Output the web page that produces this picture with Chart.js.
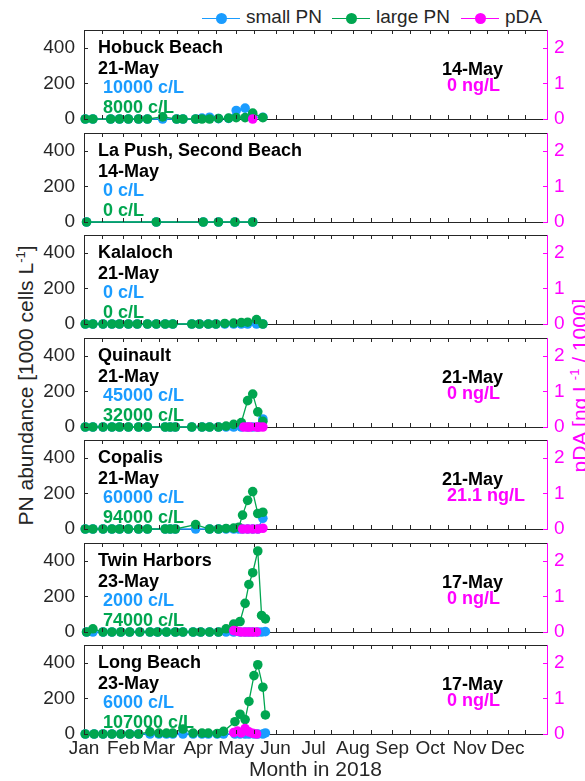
<!DOCTYPE html>
<html lang="en">
<head>
<meta charset="UTF-8">
<title>PN abundance 2018</title>
<script src="https://cdn.jsdelivr.net/npm/chart.js@4.4.1/dist/chart.umd.min.js"></script>
<style>
  body { margin: 0; background: #fff; width: 585px; height: 781px; overflow: hidden; position: relative;
         font-family: "Liberation Sans", Arial, sans-serif; }
  canvas.panel { position: absolute; left: 0; }
  .ytitle { position: absolute; width: 420px; text-align: center; font-size: 21px; line-height: 1;
            transform: rotate(-90deg); white-space: nowrap; }
  .ytitle sup { font-size: 13px; line-height: 0; }
  .legend { position: absolute; top: 6px; font-size: 19px; color: #262626; white-space: nowrap; }
  .legend .mark { display: inline-block; position: relative; width: 38px; height: 20px; vertical-align: top; margin-right: 6px; }
  .legend .mark i { position: absolute; left: 0; right: 0; top: 12px; height: 1.4px; }
  .legend .mark b { position: absolute; left: 14px; top: 7px; width: 11px; height: 11px; border-radius: 50%; }
</style>
</head>
<body>
<div class="legend" style="left:202px"><span class="mark"><i style="background:#1a9cff"></i><b style="background:#1a9cff"></b></span>small PN</div>
<div class="legend" style="left:332px"><span class="mark"><i style="background:#00a650"></i><b style="background:#00a650"></b></span>large PN</div>
<div class="legend" style="left:461px"><span class="mark"><i style="background:#ff00ff"></i><b style="background:#ff00ff"></b></span>pDA</div>
<div class="ytitle" style="left:-185px; top:375px; color:#262626">PN abundance [1000 cells L<sup>-1</sup>]</div>
<div class="ytitle" style="left:369px; top:375px; color:#ff00ff">pDA [ng L<sup>-1</sup> / 1000]</div>
<div id="panels"></div>
<script>
// x axis = day of year 2018
var monthNames = ['Jan','Feb','Mar','Apr','May','Jun','Jul','Aug','Sep','Oct','Nov','Dec'];
var monthStarts = [0,31,59,90,120,151,181,212,243,273,304,334];
var pnTicks = [0,200,400];
var pdaTicks = [0,1,2];

// Hobuck Beach
var hobuckDays  = [1,7,21,28,35,43,50,62,73,78,88,93,99,106,114,120,127,133,141];
var hobuckSmall = [0,0,0,0,0,0,0,0,0,0,0,5,10,2,3,48,61,10,10];
var hobuckLarge = [0,0,0,0,0,0,0,12,0,0,0,0,0,3,5,8,8,33,8];
var hobuckPdaDays = [133];
var hobuckPda     = [0];

// La Push, Second Beach
var lapushDays  = [2,57,94,106,119,133];
var lapushSmall = [0,0,0,0,0,0];
var lapushLarge = [0,0,0,0,0,0];

// Kalaloch
var kalalochDays  = [1,7,15,22,28,35,42,50,57,64,70,85,91,98,104,111,118,124,129,136,141];
var kalalochSmall = [0,0,0,0,0,0,0,0,0,0,0,0,0,0,0,0,0,0,0,0,0];
var kalalochLarge = [0,0,0,0,0,0,0,0,0,0,0,0,0,0,0,3,5,8,10,25,0];

// Quinault
var quinaultDays  = [1,7,15,22,28,35,43,50,64,68,72,85,93,99,106,112,118,124,129,133,137,141];
var quinaultSmall = [0,0,0,0,0,0,0,0,0,0,0,0,0,0,0,0,0,0,0,0,0,45];
var quinaultLarge = [0,0,0,0,0,0,0,0,0,0,0,0,0,0,0,5,15,25,148,185,85,32];
var quinaultPdaDays = [126,129,131,136,138,141];
var quinaultPda     = [0,0,0,0,0,0];

// Copalis
var copalisDays  = [1,7,15,22,28,35,43,50,64,68,72,88,99,106,112,118,122,125,129,133,137,141];
var copalisSmall = [0,0,0,0,0,0,0,0,0,0,0,0,0,0,0,0,0,0,0,0,0,60];
var copalisLarge = [0,0,0,0,0,0,0,0,0,0,0,25,0,0,3,5,10,78,161,210,87,94];
var copalisPdaDays = [125,129,133,137,141];
var copalisPda     = [0,0,0,0,0.0211];

// Twin Harbors
var twinDays  = [2,7,15,22,29,36,44,52,58,65,72,78,86,92,99,106,112,118,123,127,130,133,137,140,143];
var twinSmall = [0,0,0,0,0,0,0,0,0,0,0,0,0,0,0,0,0,0,0,0,0,0,0,0,2];
var twinLarge = [0,18,0,0,0,0,0,0,0,0,0,0,0,0,0,0,18,44,59,161,267,333,455,93,74];
var twinPdaDays = [118,121,124,127,130,133,136];
var twinPda     = [0.04,0.02,0,0,0,0,0];

// Long Beach
var longDays  = [1,8,15,22,29,36,43,52,59,65,70,78,86,93,98,105,110,119,123,127,130,134,137,141,143];
var longSmall = [0,0,0,0,0,0,0,0,0,0,0,0,0,0,0,0,0,0,0,0,0,0,0,0,6];
var longLarge = [0,0,0,0,0,0,0,12,5,5,5,28,5,5,5,3,15,69,111,81,183,328,389,263,107];
var longPdaDays = [118,121,124,127,130,133,136];
var longPda     = [0.04,0.08,0.03,0.15,0.06,0.02,0];

var blue = '#1a9cff', green = '#00a650', pink = '#ff00ff', axisColor = '#262626';

var panels = [
  {name:'Hobuck Beach', date:'21-May', small:' 10000 c/L', large:' 8000 c/L', pdaDate:'14-May', pdaText:' 0 ng/L',
   days:hobuckDays, s:hobuckSmall, l:hobuckLarge, pd:hobuckPdaDays, p:hobuckPda},
  {name:'La Push, Second Beach', date:'14-May', small:' 0 c/L', large:' 0 c/L', pdaDate:'', pdaText:'',
   days:lapushDays, s:lapushSmall, l:lapushLarge, pd:[], p:[]},
  {name:'Kalaloch', date:'21-May', small:' 0 c/L', large:' 0 c/L', pdaDate:'', pdaText:'',
   days:kalalochDays, s:kalalochSmall, l:kalalochLarge, pd:[], p:[]},
  {name:'Quinault', date:'21-May', small:' 45000 c/L', large:' 32000 c/L', pdaDate:'21-May', pdaText:' 0 ng/L',
   days:quinaultDays, s:quinaultSmall, l:quinaultLarge, pd:quinaultPdaDays, p:quinaultPda},
  {name:'Copalis', date:'21-May', small:' 60000 c/L', large:' 94000 c/L', pdaDate:'21-May', pdaText:' 21.1 ng/L',
   days:copalisDays, s:copalisSmall, l:copalisLarge, pd:copalisPdaDays, p:copalisPda},
  {name:'Twin Harbors', date:'23-May', small:' 2000 c/L', large:' 74000 c/L', pdaDate:'17-May', pdaText:' 0 ng/L',
   days:twinDays, s:twinSmall, l:twinLarge, pd:twinPdaDays, p:twinPda},
  {name:'Long Beach', date:'23-May', small:' 6000 c/L', large:' 107000 c/L', pdaDate:'17-May', pdaText:' 0 ng/L',
   days:longDays, s:longSmall, l:longLarge, pd:longPdaDays, p:longPda}
];

// ticks on the 1st and 15th of each month
var xTickDays = [];
monthStarts.forEach(function(d) { xTickDays.push(d); xTickDays.push(d + 14); });

Chart.defaults.font.family = '"Liberation Sans", Arial, sans-serif';
Chart.defaults.color = axisColor;

function noPad(s) {
  s.paddingTop = 0; s.paddingBottom = 0; s.paddingLeft = 0; s.paddingRight = 0;
}

var panelDecor = {
  id: 'panelDecor',
  afterDraw: function(chart, args, opts) {
    var ctx = chart.ctx, a = chart.chartArea, sc = chart.scales;
    ctx.save();
    ctx.lineWidth = 1;
    ctx.strokeStyle = axisColor;
    ctx.beginPath();
    ctx.moveTo(a.left, Math.round(a.top) + 0.5);
    ctx.lineTo(a.right, Math.round(a.top) + 0.5);
    xTickDays.forEach(function(d) {
      var px = Math.round(sc.x.getPixelForValue(d)) + 0.5;
      ctx.moveTo(px, a.top); ctx.lineTo(px, a.top + 4);
      ctx.moveTo(px, a.bottom); ctx.lineTo(px, a.bottom - 4);
    });
    pnTicks.forEach(function(v) {
      var py = Math.round(sc.y.getPixelForValue(v)) + 0.5;
      ctx.moveTo(a.left, py); ctx.lineTo(a.left + 4, py);
    });
    ctx.stroke();
    ctx.strokeStyle = pink;
    ctx.beginPath();
    pdaTicks.forEach(function(v) {
      var py = Math.round(sc.y2.getPixelForValue(v)) + 0.5;
      ctx.moveTo(a.right, py); ctx.lineTo(a.right - 4, py);
    });
    ctx.stroke();

    ctx.font = 'bold 18px "Liberation Sans", Arial, sans-serif';
    ctx.textAlign = 'left';
    ctx.textBaseline = 'alphabetic';
    var lx = a.left + 14, rx = a.left + 358;
    ctx.fillStyle = '#000';
    ctx.fillText(opts.name, lx, a.top + 23);
    ctx.fillText(opts.date, lx, a.top + 44);
    ctx.fillStyle = blue;
    ctx.fillText(opts.small, lx, a.top + 63);
    ctx.fillStyle = green;
    ctx.fillText(opts.large, lx, a.top + 83);
    ctx.fillStyle = '#000';
    ctx.fillText(opts.pdaDate, rx, a.top + 45);
    ctx.fillStyle = pink;
    ctx.fillText(opts.pdaText, rx, a.top + 61);
    ctx.restore();
  }
};

function points(days, vals) {
  return days.map(function(d, i) { return {x: d, y: vals[i]}; });
}

var holder = document.getElementById('panels');
panels.forEach(function(p, i) {
  var last = (i === panels.length - 1);
  var top = 30 + 102.5 * i;
  var padTop = 8;
  var areaH = 89;
  var xH = last ? 47 : 0;
  var padBottom = last ? 0 : 8;
  var canvas = document.createElement('canvas');
  canvas.className = 'panel';
  canvas.width = 585;
  canvas.height = padTop + areaH + xH + padBottom;
  canvas.style.top = (top - padTop) + 'px';
  holder.appendChild(canvas);

  var base = {pointRadius: 4.8, pointHoverRadius: 4.8, pointBorderWidth: 0, borderWidth: 1.3, clip: false, tension: 0};
  var datasets = [
    Object.assign({label: 'small PN', data: points(p.days, p.s), yAxisID: 'y', borderColor: blue, backgroundColor: blue, order: 3}, base),
    Object.assign({label: 'large PN', data: points(p.days, p.l), yAxisID: 'y', borderColor: green, backgroundColor: green, order: 2}, base),
    Object.assign({label: 'pDA', data: points(p.pd, p.p), yAxisID: 'y2', borderColor: pink, backgroundColor: pink, order: 1}, base)
  ];

  new Chart(canvas.getContext('2d'), {
    type: 'line',
    data: {datasets: datasets},
    options: {
      responsive: false,
      animation: false,
      devicePixelRatio: 1,
      events: [],
      layout: {padding: {top: padTop, bottom: padBottom, left: 0, right: 0}},
      scales: {
        x: {
          type: 'linear', position: 'bottom', min: 0, max: 365,
          grid: {display: false, drawTicks: false},
          border: {display: true, color: axisColor, width: 1},
          afterBuildTicks: function(s) { s.ticks = monthStarts.map(function(v) { return {value: v}; }); },
          afterFit: function(s) { s.height = xH; noPad(s); },
          ticks: {
            display: last, autoSkip: false, maxRotation: 0, padding: 3,
            font: {size: 19}, color: axisColor,
            callback: function(v) { return monthNames[monthStarts.indexOf(v)]; }
          },
          title: {display: last, text: 'Month in 2018', color: axisColor, font: {size: 21, lineHeight: 1}, padding: 0}
        },
        y: {
          position: 'left', min: 0, max: 500,
          grid: {display: false, drawTicks: false},
          border: {display: true, color: axisColor, width: 1},
          afterBuildTicks: function(s) { s.ticks = pnTicks.map(function(v) { return {value: v}; }); },
          afterFit: function(s) { s.width = 84; noPad(s); },
          ticks: {padding: 9, font: {size: 19}, color: axisColor}
        },
        y2: {
          position: 'right', min: 0, max: 2.5,
          grid: {display: false, drawTicks: false},
          border: {display: true, color: pink, width: 1},
          afterBuildTicks: function(s) { s.ticks = pdaTicks.map(function(v) { return {value: v}; }); },
          afterFit: function(s) { s.width = 38; noPad(s); },
          ticks: {padding: 7, font: {size: 19}, color: pink}
        }
      },
      plugins: {
        legend: {display: false},
        tooltip: {enabled: false},
        panelDecor: {name: p.name, date: p.date, small: p.small, large: p.large, pdaDate: p.pdaDate, pdaText: p.pdaText}
      }
    },
    plugins: [panelDecor]
  });
});
</script>
</body>
</html>
